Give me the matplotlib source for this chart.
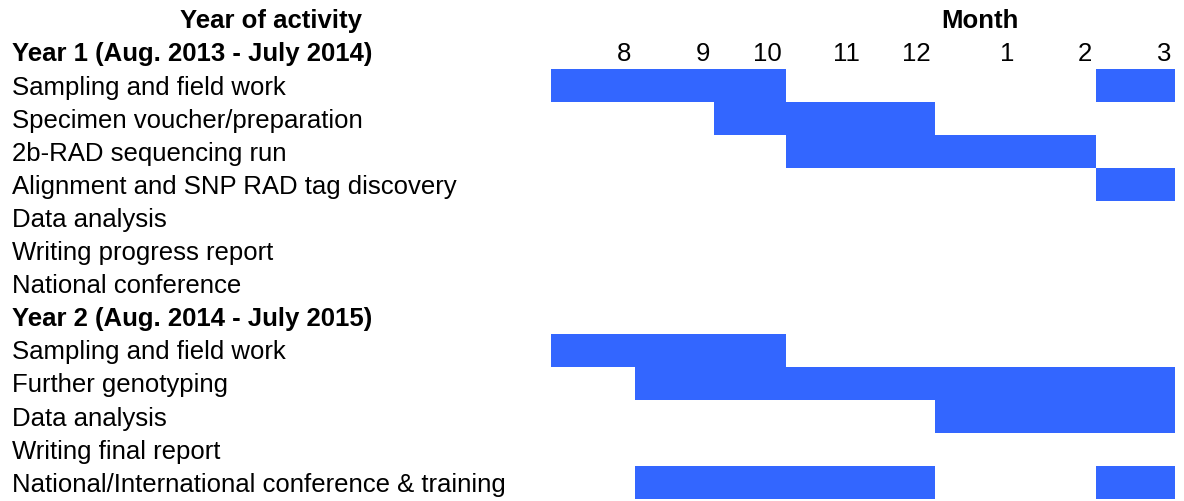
import matplotlib.pyplot as plt

# ── Datos ───────────────────────────────────────────────────────────────────
months = ["8", "9", "10", "11", "12", "1", "2", "3"]

rows = [
    "Year 1 (Aug. 2013 - July 2014)",
    "Sampling and field work",
    "Specimen voucher/preparation",
    "2b-RAD sequencing run",
    "Alignment and SNP RAD tag discovery",
    "Data analysis",
    "Writing progress report",
    "National conference",
    "Year 2 (Aug. 2014 - July 2015)",
    "Sampling and field work",
    "Further genotyping",
    "Data analysis",
    "Writing final report",
    "National/International conference & training",
]
bold_rows = [0, 8]

# active months per row: list of (first month index, last month index)
spans = [
    [],
    [(0, 2), (7, 7)],
    [(2, 4)],
    [(3, 6)],
    [(7, 7)],
    [],
    [],
    [],
    [],
    [(0, 2)],
    [(1, 7)],
    [(5, 7)],
    [],
    [(1, 4), (7, 7)],
]

# ── Layout (pixels, spreadsheet-like columns) ───────────────────────────────
W, H = 1184, 501
ROW_H = 33.1
TOP = 2.8
TXT_DY = 2.0
COL_EDGES = [551, 635, 714, 786, 864, 935, 1018, 1096, 1175]
BLUE = "#3366ff"
FS = 18.5

plt.rcParams["font.family"] = ["Liberation Sans", "DejaVu Sans"]

fig = plt.figure(figsize=(W / 100, H / 100), dpi=100)
ax = fig.add_axes([0, 0, 1, 1])
ax.set_xlim(0, W)
ax.set_ylim(H, 0)
ax.axis("off")


def row_center(r):
    return TOP + ROW_H * (r + 0.5)


# header row
ax.text(271, row_center(0) + TXT_DY, "Year of activity", ha="center",
        va="center", fontsize=FS, fontweight="bold")
ax.text(980, row_center(0) + TXT_DY, "Month", ha="center", va="center",
        fontsize=FS, fontweight="bold")

# month numbers (right aligned inside each column)
for i, m in enumerate(months):
    ax.text(COL_EDGES[i + 1] - 4, row_center(1) + TXT_DY, m, ha="right",
            va="center", fontsize=FS)

# activity rows
for i, (label, sp) in enumerate(zip(rows, spans)):
    r = i + 1
    ax.text(12, row_center(r) + TXT_DY, label, ha="left", va="center",
            fontsize=FS, fontweight="bold" if i in bold_rows else "normal")
    for a, b in sp:
        left = COL_EDGES[a]
        ax.barh(row_center(r), COL_EDGES[b + 1] - left, left=left,
                height=ROW_H, color=BLUE, linewidth=0)

fig.savefig("out.png", dpi=100)
